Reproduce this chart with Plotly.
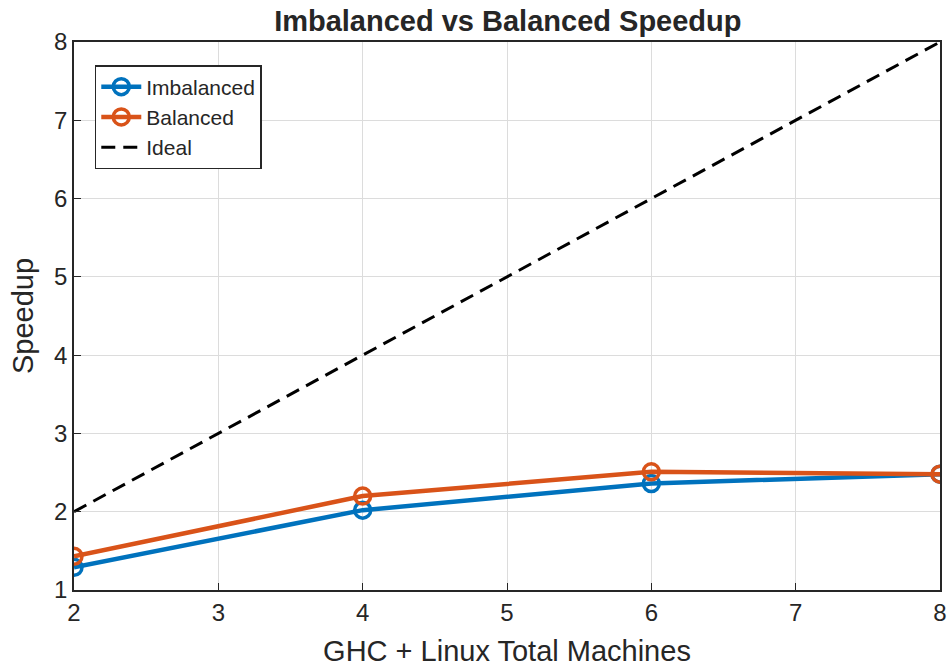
import plotly.graph_objects as go

machines = [2, 4, 6, 8]
imbalanced = [1.29, 2.02, 2.36, 2.48]
balanced = [1.43, 2.20, 2.51, 2.48]
ideal = [2, 4, 6, 8]

blue = "#0072BD"
orange = "#D95319"

fig = go.Figure()
fig.add_trace(go.Scatter(x=machines, y=imbalanced, name="Imbalanced", mode="lines+markers",
                         line=dict(color=blue, width=4.5),
                         marker=dict(symbol="circle-open", size=16, color=blue, line=dict(width=3.5, color=blue))))
fig.add_trace(go.Scatter(x=machines, y=balanced, name="Balanced", mode="lines+markers",
                         line=dict(color=orange, width=4.5),
                         marker=dict(symbol="circle-open", size=16, color=orange, line=dict(width=3.5, color=orange))))
fig.add_trace(go.Scatter(x=machines, y=ideal, name="Ideal", mode="lines",
                         line=dict(color="black", width=3, dash="14px,8px")))

font = "Liberation Sans, Arial, sans-serif"
fig.update_layout(
    width=951, height=667,
    margin=dict(l=74, r=11, t=42, b=77),
    paper_bgcolor="white", plot_bgcolor="white",
    font=dict(family=font, size=24, color="#262626"),
    title=dict(text="<b>Imbalanced vs Balanced Speedup</b>", x=0.534, xanchor="center",
               y=0.968, yanchor="middle", font=dict(size=29, color="#262626")),
    showlegend=True,
    legend=dict(x=0.024, y=0.958, xanchor="left", yanchor="top",
                bgcolor="white", bordercolor="#262626", borderwidth=1.5,
                font=dict(size=21), tracegroupgap=0, itemwidth=40),
)
fig.update_xaxes(range=[2, 8], tickvals=[2, 3, 4, 5, 6, 7, 8], showgrid=True, gridcolor="#DCDCDC",
                 gridwidth=1, showline=True, linecolor="#262626", linewidth=1.5, mirror=True,
                 ticks="inside", ticklen=7, tickcolor="#262626", zeroline=False, automargin=False,
                 title=dict(text="GHC + Linux Total Machines", standoff=16))
fig.update_yaxes(range=[1, 8], tickvals=[1, 2, 3, 4, 5, 6, 7, 8], showgrid=True, gridcolor="#DCDCDC",
                 gridwidth=1, showline=True, linecolor="#262626", linewidth=1.5, mirror=True,
                 ticks="inside", ticklen=7, tickcolor="#262626", zeroline=False, automargin=False,
                 title=dict(text="Speedup", standoff=12))

fig.write_html("out.html")
